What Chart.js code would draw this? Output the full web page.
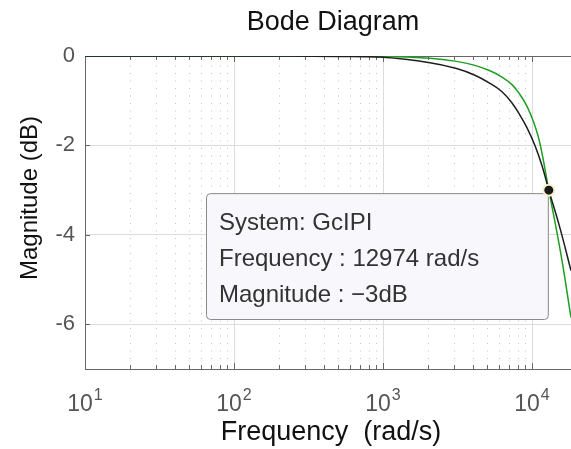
<!DOCTYPE html>
<html><head><meta charset="utf-8">
<script src="https://cdn.jsdelivr.net/npm/chart.js@4/dist/chart.umd.min.js"></script>
<style>html,body{margin:0;padding:0;background:#fff;overflow:hidden}#wrap{width:571px;height:449px;position:relative}</style>
</head><body><div id="wrap"><canvas id="c" width="571" height="449"></canvas></div>
<script>
// ---- data ----
const freqBlack = [10, 100, 500, 1000, 2065, 3118, 4140, 5224, 6295, 7345, 8300, 9250, 10470, 11670, 12974, 15420, 18280];
const magBlack  = [0, 0, -0.01, -0.03, -0.15, -0.28, -0.43, -0.61, -0.80, -1.05, -1.32, -1.60, -2.0, -2.45, -3.0, -3.85, -4.8];
const freqGreen = [10, 100, 1000, 2065, 3118, 4140, 5224, 6295, 7345, 8300, 9250, 10310, 11300, 12974, 15670, 18280];
const magGreen  = [0, 0, -0.01, -0.05, -0.12, -0.21, -0.33, -0.47, -0.64, -0.86, -1.12, -1.50, -1.95, -3.0, -4.45, -5.85];
const markerFreq = [12974];
const markerMag = [-3];
const xMajorTicks = [10, 100, 1000, 10000];
const xTickExp = ['1', '2', '3', '4'];
const yTicks = [0, -2, -4, -6];
const tipLines = ['System: GcIPI', 'Frequency : 12974 rad/s', 'Magnitude : \u22123dB'];
const titleText = 'Bode Diagram';
const xLabel = 'Frequency  (rad/s)';
const yLabel = 'Magnitude (dB)';

const FONT = "'Liberation Sans', Arial, Helvetica, sans-serif";
const toPts = (xs, ys) => xs.map((x, i) => ({x: x, y: ys[i]}));

const deco = {
  id: 'deco',
  beforeDatasetsDraw(chart) {
    const ctx = chart.ctx, a = chart.chartArea, xs = chart.scales.x, ys = chart.scales.y;
    ctx.save();
    // minor dotted grid
    ctx.strokeStyle = '#c2c2c2'; ctx.lineWidth = 1; ctx.setLineDash([1, 6.5]);
    for (const d of xMajorTicks) {
      for (let k = 2; k <= 9; k++) {
        const v = k * d; if (v > xs.max) continue;
        const px = Math.round(xs.getPixelForValue(v)) + 0.5;
        ctx.beginPath(); ctx.moveTo(px, a.top + 2); ctx.lineTo(px, a.bottom); ctx.stroke();
      }
    }
    ctx.setLineDash([]);
    // major vertical grid
    ctx.strokeStyle = '#dcdcdc';
    for (const v of xMajorTicks.slice(1)) {
      const px = Math.round(xs.getPixelForValue(v)) + 0.5;
      ctx.beginPath(); ctx.moveTo(px, a.top); ctx.lineTo(px, a.bottom); ctx.stroke();
    }
    // top border
    ctx.strokeStyle = '#666';
    ctx.beginPath(); ctx.moveTo(a.left, a.top + 0.5); ctx.lineTo(a.right, a.top + 0.5); ctx.stroke();
    // inward ticks
    for (const d of xMajorTicks) {
      for (let k = 1; k <= 9; k++) {
        const v = k * d; if (v > xs.max || v <= xs.min) continue;
        const px = Math.round(xs.getPixelForValue(v)) + 0.5;
        const L = k === 1 ? 6 : 4;
        ctx.beginPath(); ctx.moveTo(px, a.top); ctx.lineTo(px, a.top + L); ctx.stroke();
        ctx.beginPath(); ctx.moveTo(px, a.bottom); ctx.lineTo(px, a.bottom - L); ctx.stroke();
      }
    }
    for (const v of yTicks) {
      const py = Math.round(ys.getPixelForValue(v)) + 0.5;
      ctx.beginPath(); ctx.moveTo(a.left, py); ctx.lineTo(a.left + 5, py); ctx.stroke();
    }
    // data tip box
    const mx = xs.getPixelForValue(markerFreq[0]), my = ys.getPixelForValue(markerMag[0]);
    const bx1 = mx - 1, by0 = my + 3, bx0 = 206, by1 = 319;
    ctx.beginPath();
    ctx.roundRect(bx0 + 0.5, by0 + 0.5, bx1 - bx0, by1 - by0, 4);
    ctx.fillStyle = '#f8f8fc'; ctx.fill();
    ctx.strokeStyle = '#8a8a8a'; ctx.lineWidth = 1; ctx.stroke();
    ctx.fillStyle = '#333'; ctx.font = '24px ' + FONT; ctx.textBaseline = 'middle'; ctx.textAlign = 'left';
    tipLines.forEach((t, i) => ctx.fillText(t, 219, 223 + i * 36));
    ctx.restore();
  },
  afterDraw(chart) {
    const ctx = chart.ctx, xs = chart.scales.x;
    ctx.save();
    ctx.fillStyle = '#555'; ctx.textBaseline = 'alphabetic';
    xMajorTicks.forEach((v, i) => {
      const px = xs.getPixelForValue(v);
      ctx.font = '23px ' + FONT; const w1 = ctx.measureText('10').width;
      ctx.font = '16px ' + FONT; const w2 = ctx.measureText(xTickExp[i]).width;
      const x0 = px - (w1 + w2 + 1) / 2;
      ctx.font = '23px ' + FONT; ctx.textAlign = 'left'; ctx.fillText('10', x0, 411);
      ctx.font = '16px ' + FONT; ctx.fillText(xTickExp[i], x0 + w1 + 1, 400);
    });
    ctx.fillStyle = '#111'; ctx.textAlign = 'center';
    ctx.font = '27px ' + FONT; ctx.fillText(titleText, 333, 30);
    ctx.font = '27px ' + FONT; ctx.fillText(xLabel, 331, 440);
    ctx.translate(30, 198); ctx.rotate(-Math.PI / 2);
    ctx.textBaseline = 'middle'; ctx.font = '24px ' + FONT; ctx.fillText(yLabel, 0, 0);
    ctx.restore();
  }
};

new Chart(document.getElementById('c'), {
  type: 'line',
  data: {
    datasets: [
      {data: toPts(markerFreq, markerMag), showLine: false, pointRadius: 5.5, pointBackgroundColor: '#1a1a1a', pointBorderColor: '#f7f0cc', pointBorderWidth: 2, order: 0},
      {data: toPts(freqBlack, magBlack), borderColor: '#1e1e1e', borderWidth: 1.5, pointRadius: 0, tension: 0.4, order: 1},
      {data: toPts(freqGreen, magGreen), borderColor: '#1f9e24', borderWidth: 1.5, pointRadius: 0, tension: 0.4, order: 2}
    ]
  },
  options: {
    responsive: false, animation: false, events: [],
    layout: {autoPadding: false, padding: {top: 56, right: 0, bottom: 0, left: 0}},
    plugins: {legend: {display: false}, tooltip: {enabled: false}, title: {display: false}},
    scales: {
      x: {
        type: 'logarithmic', min: 10, max: 18280,
        afterBuildTicks: s => { s.ticks = xMajorTicks.map(v => ({value: v})); },
        afterFit: s => { s.height = 80; },
        ticks: {display: false},
        grid: {display: false},
        border: {display: true, color: '#666', width: 1}
      },
      y: {
        min: -7, max: 0,
        afterBuildTicks: s => { s.ticks = yTicks.map(v => ({value: v})); },
        afterFit: s => { s.width = 85; },
        ticks: {color: '#555', font: {family: FONT, size: 22}, padding: 10},
        grid: {color: '#dcdcdc', drawTicks: false},
        border: {display: true, color: '#666', width: 1}
      }
    }
  },
  plugins: [deco]
});
</script></body></html>
